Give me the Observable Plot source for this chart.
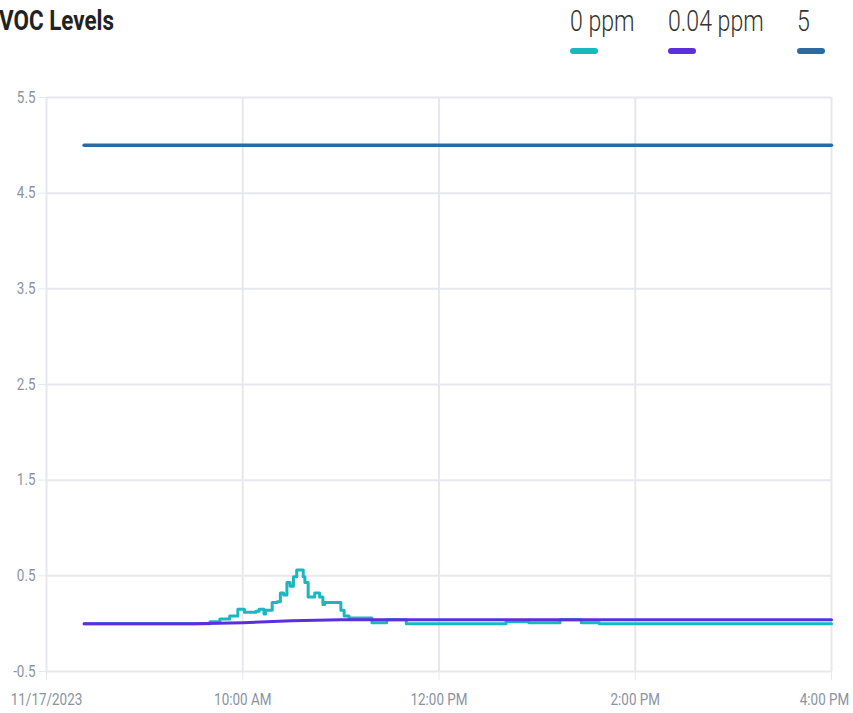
<!DOCTYPE html>
<html>
<head>
<meta charset="utf-8">
<script src="https://cdn.jsdelivr.net/npm/d3@7"></script>
<script src="https://cdn.jsdelivr.net/npm/@observablehq/plot@0.6"></script>
<style>
  html, body { margin: 0; padding: 0; background: #fff; overflow: hidden; }
  body { width: 853px; height: 713px; font-family: Roboto, sans-serif; }
  #head { position: relative; height: 80px; width: 853px; }
  #title { position: absolute; left: -1px; top: 4px; font-size: 28px; font-weight: 700; color: #222;
           transform: scaleX(0.8); transform-origin: left top; white-space: nowrap; }
  .leg { position: absolute; top: 3px; }
  .leg .lab { font-size: 30px; font-weight: 300; color: #333; transform: scaleX(0.77); transform-origin: left top; white-space: nowrap; }
  .leg .sw { position: absolute; top: 45px; left: 0; width: 28px; height: 6px; border-radius: 3px; }
</style>
</head>
<body>
<div id="head">
  <div id="title">VOC Levels</div>
  <div id="legend"></div>
</div>
<div id="chart"></div>
<script>
// ---- data ----
const day = "2023-11-17";
const seriesNames = ["0 ppm", "0.04 ppm", "5"];
const seriesColors = ["#1bb7c1", "#5b2fdc", "#2c6ba1"];

const cyanTimes  = ["08:23","09:40","09:46","09:52","09:57","10:01","10:08","10:10","10:13","10:14","10:18","10:21","10:23","10:25","10:27","10:29","10:31","10:33","10:37","10:38","10:40","10:44","10:47","10:49","10:50","11:00","11:02","11:05","11:19","11:28","11:40","12:41","12:55","13:14","13:27","13:38","16:00"];
const cyanValues = [0.00, 0.02, 0.05, 0.08, 0.15, 0.12, 0.13, 0.15, 0.10, 0.14, 0.22, 0.23, 0.32, 0.30, 0.43, 0.39, 0.49, 0.56, 0.49, 0.43, 0.28, 0.32, 0.28, 0.20, 0.22, 0.14, 0.08, 0.06, 0.01, 0.04, 0.00, 0.02, 0.01, 0.04, 0.01, 0.00, 0.00];

const purpleTimes  = ["08:23","09:30","10:00","10:30","11:00","11:30","16:00"];
const purpleValues = [0.00, 0.00, 0.01, 0.03, 0.04, 0.04, 0.04];

const blueTimes  = ["08:23","16:00"];
const blueValues = [5.0, 5.0];

const xTickTimes = ["08:00","10:00","12:00","14:00","16:00"];
const yTicks = [-0.5, 0.5, 1.5, 2.5, 3.5, 4.5, 5.5];

// ---- build ----
const parse = d3.timeParse("%Y-%m-%d %H:%M");
const toDate = t => parse(day + " " + t);
const mk = (times, vals, name) => times.map((t, i) => ({time: toDate(t), value: vals[i], series: name}));
const cyan = mk(cyanTimes, cyanValues, seriesNames[0]);
const purple = mk(purpleTimes, purpleValues, seriesNames[1]);
const blue = mk(blueTimes, blueValues, seriesNames[2]);
const xTicks = xTickTimes.map(toDate);
const timeFmt = d3.timeFormat("%-I:%M %p");
const dateFmt = d3.timeFormat("%m/%d/%Y");
const fmtX = d => (+d === +xTicks[0] ? dateFmt(d) : timeFmt(d));
const lastLabel = fmtX(xTicks[xTicks.length - 1]);

const gridColor = "#e7e8ee";
const chart = Plot.plot({
  width: 853,
  height: 633,
  marginTop: 17,
  marginBottom: 42,
  marginLeft: 46,
  marginRight: 22,
  style: {fontFamily: "Roboto, sans-serif", fontSize: "16px", color: gridColor, background: "#fff", overflow: "visible"},
  x: {type: "time", domain: [xTicks[0], xTicks[xTicks.length - 1]], ticks: xTicks, tickFormat: fmtX, tickSize: 9, tickPadding: 13, label: null},
  y: {domain: [yTicks[0], yTicks[yTicks.length - 1]], ticks: yTicks, tickFormat: d => String(d), tickSize: 8, tickPadding: 3, label: null},
  marks: [
    Plot.ruleY(yTicks, {stroke: gridColor, strokeWidth: 2}),
    Plot.ruleX(xTicks, {stroke: gridColor, strokeWidth: 2}),
    Plot.line(cyan, {x: "time", y: "value", stroke: seriesColors[0], strokeWidth: 3, curve: "step-after"}),
    Plot.line(purple, {x: "time", y: "value", stroke: seriesColors[1], strokeWidth: 3}),
    Plot.line(blue, {x: "time", y: "value", stroke: seriesColors[2], strokeWidth: 3.5})
  ]
});

// condense & colour text labels
chart.querySelectorAll("text").forEach(t => {
  t.setAttribute("fill", "#8a93a2");
  const x0 = parseFloat(t.getAttribute("x") || "0");
  const tr = t.getAttribute("transform") || "";
  const shift = t.textContent === lastLabel ? -7 : 0;
  t.setAttribute("transform", `${tr} translate(${x0 + shift},0) scale(0.84,1) translate(${-x0},0)`);
});
document.getElementById("chart").appendChild(chart);

// legend
const legLefts = [570, 668, 797];
const legend = document.getElementById("legend");
seriesNames.forEach((name, i) => {
  const d = document.createElement("div");
  d.className = "leg";
  d.style.left = legLefts[i] + "px";
  d.innerHTML = `<div class="lab">${name}</div><div class="sw" style="background:${seriesColors[i]}"></div>`;
  legend.appendChild(d);
});
</script>
</body>
</html>
